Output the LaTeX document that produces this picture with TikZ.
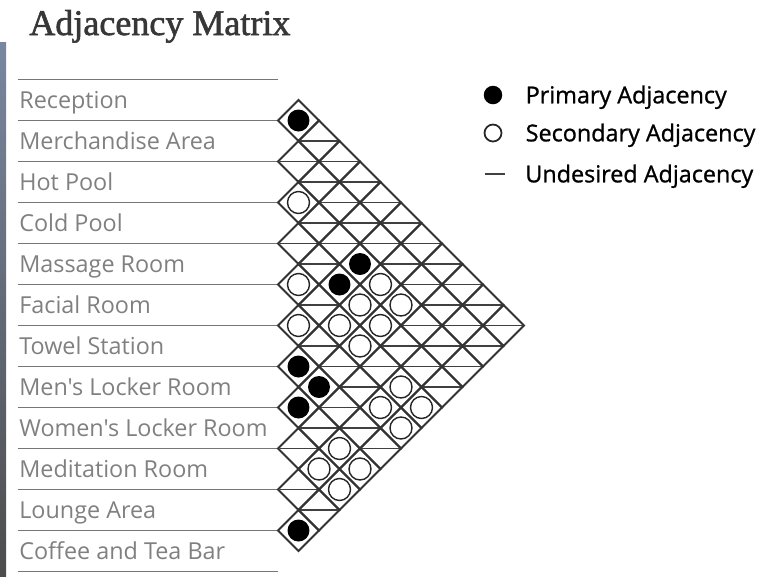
\documentclass[tikz,border=0pt]{standalone}
\usepackage{fontspec}
\setmainfont{Liberation Serif}
\newfontfamily\titlefont[FakeBold=1.6]{Liberation Serif}
\newfontfamily\roomfont{Open Sans}
\newfontfamily\keyfont[FakeBold=1]{Open Sans}
\usetikzlibrary{positioning}

\definecolor{linegray}{RGB}{118,118,118}
\definecolor{namegray}{RGB}{128,128,128}
\definecolor{titlegray}{RGB}{55,55,55}
\definecolor{edgeblue}{RGB}{120,135,160}

\begin{document}
\begin{tikzpicture}[x=0.02cm,y=-0.02cm,
roomlabel/.style={anchor=west,inner sep=0pt,text height=9.5pt,text depth=0pt,
    text=namegray,font=\roomfont\fontsize{13.3}{15}\selectfont},
keytext/.style={inner sep=0pt,text height=9.5pt,text depth=0pt,
    font=\keyfont\fontsize{13.3}{15}\selectfont},
rowline/.style={draw=linegray,line width=1.1pt},
cellline/.style={draw=black!80,line width=1.1pt},
nogo/.style={draw=black!75,line width=1.1pt},
primary/.style={circle,fill=black,inner sep=0pt,minimum size=0.44cm},
secondary/.style={circle,draw=black!85,line width=0.8pt,fill=white,inner sep=0pt,minimum size=0.44cm}]
\useasboundingbox (0,0) rectangle (765,576);
\fill[white] (0,0) rectangle (765,576);
\shade[top color=edgeblue,bottom color=black!70] (0,42) rectangle (6,576);

\node (title) [anchor=base west,inner sep=0pt,text=titlegray,
    font=\titlefont\fontsize{20.5}{24}\selectfont] at (29,35) {Adjacency Matrix};

% rooms and row rules
\foreach \name [count=\k from 0] in {Reception,Merchandise Area,Hot Pool,Cold Pool,
    Massage Room,Facial Room,Towel Station,Men's Locker Room,Women's Locker Room,
    Meditation Room,Lounge Area,Coffee and Tea Bar}
  \node (room\k) [roomlabel] at (19,100+41*\k) {\name};
\foreach \k in {0,...,12}
  \draw[rowline] (18,79.5+41*\k) -- (278,79.5+41*\k);

% which pairs get a circle
\foreach \i/\j in {0/1,2/6,3/6,6/7,6/8,7/8,10/11}
  {\expandafter\xdef\csname prim\i-\j\endcsname{1}}
\foreach \i/\j in {2/3,4/5,5/6,2/7,3/7,4/7,2/8,3/8,4/8,4/10,5/10,4/11,5/11,
    7/10,8/10,7/11,8/11}
  {\expandafter\xdef\csname scnd\i-\j\endcsname{1}}

% the matrix
\foreach \i in {0,...,10}{
  \pgfmathtruncatemacro\jfrom{\i+1}
  \foreach \j in {\jfrom,...,11}{
    \coordinate (c) at (278+20.5*\j-20.5*\i,100+20.5*\i+20.5*\j);
    \draw[cellline] (c) +(-20.5,0) -- +(0,-20.5) -- +(20.5,0) -- +(0,20.5) -- cycle;
    \ifcsname prim\i-\j\endcsname
      \node[primary] at (c) {};
    \else\ifcsname scnd\i-\j\endcsname
      \node[secondary] at (c) {};
    \else
      \draw[nogo] (c) +(-19,0) -- +(19,0);
    \fi\fi
  }
}

% key
\node (primdot) [primary,minimum size=0.37cm] at (493,95) {};
\node (primtxt) [keytext,right=0.455cm of primdot] {Primary Adjacency};
\node (scnddot) [secondary,minimum size=0.34cm,line width=1pt] at (493,133) {};
\node (scndtxt) [keytext,right=0.46cm of scnddot] {Secondary Adjacency};
\coordinate (nogoleft) at (485,174);
\coordinate (nogoright) at (505,174);
\draw[nogo] (nogoleft) -- (nogoright);
\node (nogotxt) [keytext,right=0.4cm of nogoright] {Undesired Adjacency};
\end{tikzpicture}
\end{document}
